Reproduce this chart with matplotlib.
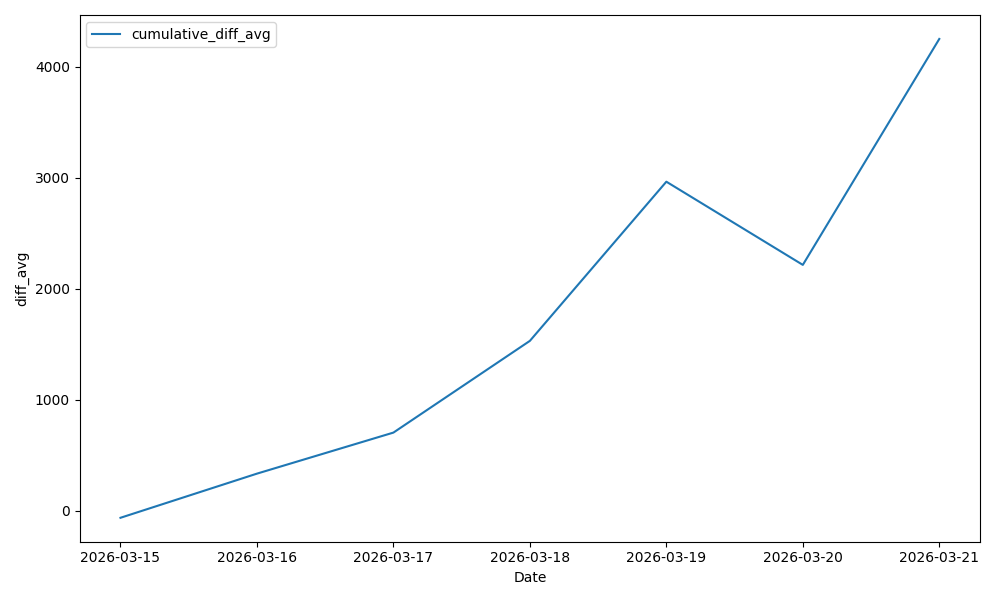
import matplotlib
matplotlib.use("Agg")
import matplotlib.pyplot as plt
import pandas as pd

dates = ["2026-03-15", "2026-03-16", "2026-03-17", "2026-03-18", "2026-03-19", "2026-03-20", "2026-03-21"]
cumulative_diff_avg = [-65, 333, 703, 1530, 2965, 2215, 4252]

x = pd.to_datetime(dates)
fig, ax = plt.subplots(figsize=(10, 6), dpi=100)
ax.plot(x, cumulative_diff_avg, label="cumulative_diff_avg", color="#1f77b4")
ax.set_xticks(x)
ax.set_xticklabels(dates)
ax.set_xlabel("Date")
ax.set_ylabel("diff_avg")
ax.legend(loc="upper left")
fig.tight_layout()
fig.savefig("out.png")
